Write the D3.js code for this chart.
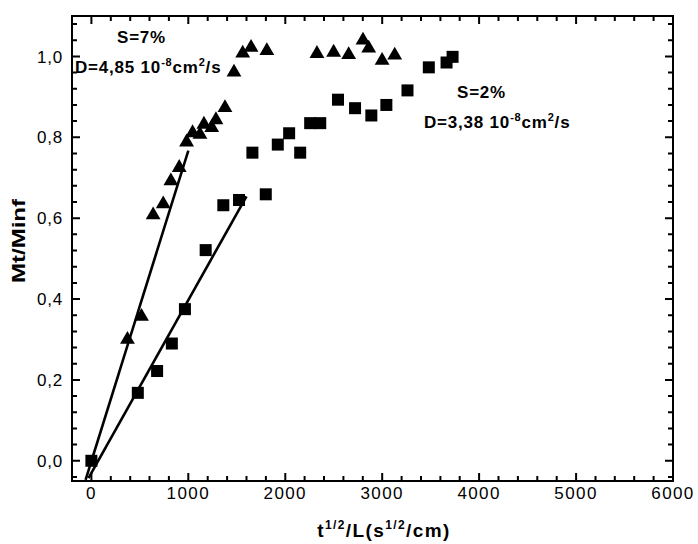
<!DOCTYPE html>
<html>
<head>
<meta charset="utf-8">
<script src="https://cdn.jsdelivr.net/npm/d3@7"></script>
<style>
  body { margin: 0; background: #fff; }
  svg { font-family: "Liberation Sans", Arial, sans-serif; }
</style>
</head>
<body>
<svg id="chart" width="698" height="544"></svg>
<script>
// S=2% (squares)
const sq2 = [
  [0, 0.0], [479, 0.168], [678, 0.222], [830, 0.29], [965, 0.375],
  [1179, 0.521], [1361, 0.632], [1523, 0.645], [1661, 0.762], [1799, 0.659],
  [1923, 0.782], [2040, 0.81], [2154, 0.762], [2257, 0.835], [2361, 0.835],
  [2544, 0.893], [2720, 0.872], [2888, 0.854], [3043, 0.88], [3261, 0.916],
  [3481, 0.973], [3664, 0.985], [3726, 0.999]
];
// S=7% (triangles)
const tri7 = [
  [372, 0.30], [517, 0.357], [637, 0.608], [741, 0.635], [820, 0.692],
  [906, 0.725], [982, 0.788], [1044, 0.811], [1120, 0.807], [1161, 0.832],
  [1241, 0.824], [1285, 0.843], [1378, 0.873], [1471, 0.961], [1561, 1.008],
  [1647, 1.022], [1810, 1.014], [2327, 1.007], [2499, 1.010], [2654, 1.004],
  [2802, 1.040], [2861, 1.020], [2999, 0.990], [3129, 1.003]
];
// linear fits of the early part
const fit7 = [[-60, -0.047], [1000, 0.767]];
const fit2 = [[-30, -0.043], [1600, 0.654]];

const xMajor = [0, 1000, 2000, 3000, 4000, 5000, 6000];
const yMajor = [0, 0.2, 0.4, 0.6, 0.8, 1.0];

const svg = d3.select('#chart');
const L = 72, T = 16, R = 673, B = 481;

const x = d3.scaleLinear().domain([-200, 6000]).range([L, R]);
const y = d3.scaleLinear().domain([-0.05, 1.1]).range([B, T]);

const xMinor = d3.range(-200, 6001, 200).filter((v) => v % 1000 !== 0);
const yMinor = d3.range(-0.04, 1.1, 0.04)
  .map((v) => +v.toFixed(2))
  .filter((v) => Math.abs(v * 5 - Math.round(v * 5)) > 1e-6);

const fmtY = (d) => d3.format('.1f')(d).replace('.', ',');

// frame and inward ticks in one path
const MAJ = 8, MIN = 5;
const xTicks = xMajor.map((v) => [v, MAJ]).concat(xMinor.map((v) => [v, MIN]));
const yTicks = yMajor.map((v) => [v, MAJ]).concat(yMinor.map((v) => [v, MIN]));
let d = `M${L},${T}H${R}V${B}H${L}Z`;
xTicks.forEach(([v, len]) => {
  const px = x(v).toFixed(1);
  d += `M${px},${B}V${B - len}M${px},${T}V${T + len}`;
});
yTicks.forEach(([v, len]) => {
  const py = y(v).toFixed(1);
  d += `M${L},${py}H${L + len}M${R},${py}H${R - len}`;
});
svg.append('path').attr('d', d)
  .attr('fill', 'none').attr('stroke', '#000').attr('stroke-width', 2);

// tick labels
svg.append('g').selectAll('text').data(xMajor).join('text')
  .attr('x', (v) => x(v)).attr('y', 499)
  .attr('text-anchor', 'middle').attr('font-size', 17).attr('letter-spacing', 1.4)
  .text((v) => d3.format('d')(v));
svg.append('g').selectAll('text').data(yMajor).join('text')
  .attr('x', 63).attr('y', (v) => y(v)).attr('dy', '0.36em')
  .attr('text-anchor', 'end').attr('font-size', 17).attr('letter-spacing', 0.8)
  .text(fmtY);

const line = d3.line().x((p) => x(p[0])).y((p) => y(p[1]));
[fit7, fit2].forEach((f) => {
  svg.append('path').attr('d', line(f))
    .attr('fill', 'none').attr('stroke', '#000').attr('stroke-width', 2.6);
});

// markers
svg.append('g').selectAll('rect').data(sq2).join('rect')
  .attr('x', (p) => x(p[0]) - 6).attr('y', (p) => y(p[1]) - 6)
  .attr('width', 12).attr('height', 12).attr('fill', '#000');

const triSym = d3.symbol().type(d3.symbolTriangle).size(95);
svg.append('g').selectAll('path').data(tri7).join('path')
  .attr('transform', (p) => `translate(${x(p[0])},${y(p[1])})`)
  .attr('d', triSym).attr('fill', '#000');

// annotations
const ann = (tx, ty, parts) => {
  const t = svg.append('text').attr('x', tx).attr('y', ty)
    .attr('font-size', 17).attr('font-weight', 'bold').attr('fill', '#000')
    .attr('letter-spacing', 0.8);
  parts.forEach(([s, sup], i) => {
    const ts = t.append('tspan').text(s);
    if (sup) ts.attr('dy', -7).attr('font-size', 11);
    else if (i > 0 && parts[i - 1][1]) ts.attr('dy', 7);
  });
};
ann(117, 43, [['S=7%']]);
ann(75, 73, [['D=4,85 10'], ['-8', 1], ['cm'], ['2', 1], ['/s']]);
ann(457, 98, [['S=2%']]);
ann(424, 128, [['D=3,38 10'], ['-8', 1], ['cm'], ['2', 1], ['/s']]);

// axis titles
const xt = svg.append('text').attr('x', 384).attr('y', 537)
  .attr('text-anchor', 'middle').attr('font-size', 19).attr('font-weight', 'bold')
  .attr('letter-spacing', 1.4);
xt.append('tspan').text('t');
xt.append('tspan').attr('dy', -8).attr('font-size', 12).text('1/2');
xt.append('tspan').attr('dy', 8).text('/L(s');
xt.append('tspan').attr('dy', -8).attr('font-size', 12).text('1/2');
xt.append('tspan').attr('dy', 8).text('/cm)');

svg.append('text')
  .attr('transform', `translate(25,241) rotate(-90)`)
  .attr('text-anchor', 'middle').attr('font-size', 18).attr('font-weight', 'bold')
  .attr('textLength', 84).attr('lengthAdjust', 'spacingAndGlyphs')
  .text('Mt/Minf');
</script>
</body>
</html>
